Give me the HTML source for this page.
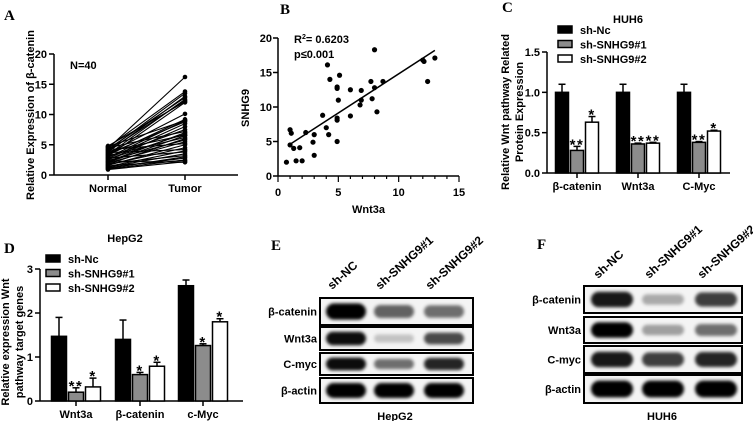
<!DOCTYPE html>
<html><head><meta charset="utf-8"><style>
html,body{margin:0;padding:0;background:#fff;}
svg{display:block;font-family:"Liberation Sans",Arial,sans-serif;font-weight:bold;}
.lt{font-family:"Liberation Serif",serif;font-weight:bold;font-size:15px;}
</style></head><body>
<svg id="fig" width="753" height="421" viewBox="0 0 753 421" xmlns="http://www.w3.org/2000/svg">
<defs>
<filter id="blur" x="-30%" y="-80%" width="160%" height="260%"><feGaussianBlur stdDeviation="1.6"/></filter>
</defs>
<g id="pA"></g>
<g id="pB"></g>
<g id="pC"></g>
<g id="pD"></g>
<g id="pE"></g>
<g id="pF"></g>
</svg>
<script>
// ---- Panel A data ----
const aNormal = [0.9,1.0,1.1,1.2,1.3,1.4,1.5,1.6,1.7,1.8,1.9,2.0,2.1,2.2,2.3,2.4,2.5,2.6,2.7,2.8,2.9,3.0,3.1,3.2,3.3,3.4,3.5,3.6,3.7,3.8,3.9,4.0,4.1,4.2,4.3,4.4,4.5,4.6,4.7,4.8];
const aTumor  = [2.2,2.5,3.0,2.8,3.5,4.0,2.4,5.0,4.5,6.0,3.2,5.5,6.5,7.0,2.1,5.8,8.0,6.8,8.5,3.8,9.0,7.5,12.0,6.2,9.2,12.5,8.8,10.1,4.2,13.0,6.6,12.3,13.5,5.2,12.8,16.2,7.2,13.8,9.0,12.1];
const aTicks = [0,5,10,15,20];
// ---- Panel B data ----
const bX = [0.7,1,1.1,1,1.3,1.5,1.8,2,2.3,2.9,3,3,3.7,4,4.1,4.2,4.3,4.9,4.9,4.9,4.9,4.9,5,5.1,6,6,6.8,6.9,6.9,7.7,7.8,8,8,8.2,8.7,12,12.1,12.4,13];
const bY = [2,6.7,6.2,4.5,4,2.2,4.1,2.2,6.3,4.9,6,3,8.8,7,16.1,6,14,12.7,12.9,8.4,8.1,5,11,14.6,12.5,8.7,10.3,11,12.4,13.7,11.2,18.3,12.8,9.3,13.7,16.8,16.6,13.7,17.1];
const bFit = [1,4.6,13,18.2];
const bXTicks = [0,5,10,15];
const bYTicks = [0,5,10,15,20];
// ---- Panel C data ----
const cCats = ["β-catenin","Wnt3a","C-Myc"];
const cNc = [1.0,1.0,1.0];
const cNcErr = [0.1,0.1,0.1];
const cS1 = [0.28,0.36,0.38];
const cS1Err = [0.05,0.01,0.01];
const cS2 = [0.63,0.37,0.52];
const cS2Err = [0.07,0.01,0.01];
const cS1Sig = ["**","**","**"];
const cS2Sig = ["*","**","*"];
const cTicks = [0,0.5,1.0,1.5];
const cTickLabels = ["0.0","0.5","1.0","1.5"];
// ---- Panel D data ----
const dCats = ["Wnt3a","β-catenin","c-Myc"];
const dNc = [1.47,1.4,2.62];
const dNcErr = [0.43,0.44,0.13];
const dS1 = [0.2,0.6,1.26];
const dS1Err = [0.1,0.05,0.04];
const dS2 = [0.32,0.79,1.8];
const dS2Err = [0.2,0.09,0.07];
const dS1Sig = ["**","*","*"];
const dS2Sig = ["*","*","*"];
const dTicks = [0,1,2,3];
const legendLabels = ["sh-Nc","sh-SNHG9#1","sh-SNHG9#2"];
const seriesFill = ["#000","#8c8c8c","#fff"];
// ---- Blots (band intensity 0..1 per row, per lane) ----
const blotRows = ["β-catenin","Wnt3a","C-myc","β-actin"];
const blotLanes = ["sh-NC","sh-SNHG9#1","sh-SNHG9#2"];
const eBands = [[1.0,0.6,0.55],[0.95,0.2,0.7],[0.95,0.55,0.85],[1.0,1.0,1.0]];
const fBands = [[0.9,0.3,0.75],[1.0,0.35,0.55],[0.9,0.75,0.85],[1.0,1.0,1.0]];

const NS="http://www.w3.org/2000/svg";
function mk(parent,tag,attrs,text){const e=document.createElementNS(NS,tag);for(const k in attrs)e.setAttribute(k,attrs[k]);if(text!==undefined)e.textContent=text;parent.appendChild(e);return e;}
function lin(d0,d1,r0,r1){return v=>r0+(v-d0)*(r1-r0)/(d1-d0);}

// ===== Panel A =====
(function(){
const g=document.getElementById('pA');
const y=lin(0,20,175,54);
const xN=108,xT=185;
let e=mk(g,'text',{x:4,y:20,class:'lt'},'A');


e=mk(g,'line',{x1:54,y1:54,x2:54,y2:175,stroke:'#000','stroke-width':1.5});


e=mk(g,'line',{x1:54,y1:175,x2:238,y2:175,stroke:'#000','stroke-width':1.5});


aTicks.forEach(t=>{
 e=mk(g,'line',{x1:49,y1:y(t),x2:54,y2:y(t),stroke:'#000','stroke-width':1.5});
 
 
 e=mk(g,'text',{x:47,y:y(t)+4,'text-anchor':'end','font-size':11},String(t));
 
 
});
[[xN,'Normal'],[xT,'Tumor']].forEach(p=>{
 e=mk(g,'line',{x1:p[0],y1:175,x2:p[0],y2:180,stroke:'#000','stroke-width':1.5});
 
 
 e=mk(g,'text',{x:p[0],y:192,'text-anchor':'middle','font-size':11},p[1]);
 
 
});
e=mk(g,'text',{x:0,y:0,'text-anchor':'middle','font-size':11,transform:'translate(34,115) rotate(-90)'},'Relative Expression of β-catenin');


e=mk(g,'text',{x:70,y:69,'font-size':11},'N=40');


aNormal.forEach((v,i)=>{
 e=mk(g,'line',{x1:xN,y1:y(v),x2:xT,y2:y(aTumor[i]),stroke:'#000','stroke-width':1.1});
 
 
 e=mk(g,'circle',{cx:xN,cy:y(v),r:2.3,fill:'#000'});
 
 
 e=mk(g,'circle',{cx:xT,cy:y(aTumor[i]),r:2.3,fill:'#000'});
 
 
});
})();

// ===== Panel B =====
(function(){
const g=document.getElementById('pB');
const x=lin(0,15,278,459), y=lin(0,20,176,38);
let e=mk(g,'text',{x:280,y:14,class:'lt'},'B');


e=mk(g,'line',{x1:278,y1:38,x2:278,y2:176,stroke:'#000','stroke-width':1.5});


e=mk(g,'line',{x1:278,y1:176,x2:459,y2:176,stroke:'#000','stroke-width':1.5});


bYTicks.forEach(t=>{
 e=mk(g,'line',{x1:273,y1:y(t),x2:278,y2:y(t),stroke:'#000','stroke-width':1.5});
 
 
 e=mk(g,'text',{x:272,y:y(t)+4,'text-anchor':'end','font-size':11},String(t));
 
 
});
for(let m=0;m<=15;m++){
 const major=bXTicks.indexOf(m)>=0;
 e=mk(g,'line',{x1:x(m),y1:176,x2:x(m),y2:major?182:179,stroke:'#000','stroke-width':1.2});
 
 
}
bXTicks.forEach(t=>{
 e=mk(g,'text',{x:x(t),y:196,'text-anchor':'middle','font-size':11},String(t));
 
 
});
e=mk(g,'text',{x:x(7.5),y:213,'text-anchor':'middle','font-size':11},'Wnt3a');


e=mk(g,'text',{x:0,y:0,'text-anchor':'middle','font-size':11,transform:'translate(249,108) rotate(-90)'},'SNHG9');


e=mk(g,'text',{x:294,y:43,'font-size':11},'R');


mk(e,'tspan',{dy:-4,'font-size':7},'2');
mk(e,'tspan',{dy:4},'= 0.6203');
e=mk(g,'text',{x:294,y:58,'font-size':11},'p≤0.001');


e=mk(g,'line',{x1:x(bFit[0]),y1:y(bFit[1]),x2:x(bFit[2]),y2:y(bFit[3]),stroke:'#000','stroke-width':1.5});


bX.forEach((v,i)=>{
 e=mk(g,'circle',{cx:x(v),cy:y(bY[i]),r:2.6,fill:'#000'});
 
 
});
})();

// ===== grouped bar chart helper =====
function barPanel(gid,pre,o){
 const g=document.getElementById(gid);
 const y=lin(0,o.ymax,o.y0,o.yTop);
 let e=mk(g,'line',{x1:o.x0,y1:o.yTop,x2:o.x0,y2:o.y0,stroke:'#000','stroke-width':1.5});
 
 
 e=mk(g,'line',{x1:o.x0,y1:o.y0,x2:o.xEnd,y2:o.y0,stroke:'#000','stroke-width':1.5});
 
 
 o.ticks.forEach((t,i)=>{
  e=mk(g,'line',{x1:o.x0-5,y1:y(t),x2:o.x0,y2:y(t),stroke:'#000','stroke-width':1.5});
  
  
  e=mk(g,'text',{x:o.x0-7,y:y(t)+4,'text-anchor':'end','font-size':11},o.tickLabels[i]);
  
  
 });
 const series=[[o.nc,o.ncErr,null],[o.s1,o.s1Err,o.s1Sig],[o.s2,o.s2Err,o.s2Sig]];
 o.cats.forEach((c,ci)=>{
  const cx=o.centers[ci];
  e=mk(g,'line',{x1:cx,y1:o.y0,x2:cx,y2:o.y0+5,stroke:'#000','stroke-width':1.5});
  
  
  e=mk(g,'text',{x:cx,y:o.y0+17,'text-anchor':'middle','font-size':11},c);
  
  
  series.forEach((s,si)=>{
   const bx=cx+(si-1)*(o.bw+o.gap)-o.bw/2;
   const v=s[0][ci], er=s[1][ci];
   e=mk(g,'line',{x1:bx+o.bw/2,y1:y(v),x2:bx+o.bw/2,y2:y(v+er),stroke:'#000','stroke-width':1.5});
   
   
   e=mk(g,'line',{x1:bx+o.bw/2-3.5,y1:y(v+er),x2:bx+o.bw/2+3.5,y2:y(v+er),stroke:'#000','stroke-width':1.5});
   
   
   e=mk(g,'rect',{x:bx,y:y(v),width:o.bw,height:o.y0-y(v),fill:seriesFill[si],stroke:'#000','stroke-width':1.5});
   
   
   if(s[2]){
    e=mk(g,'text',{x:bx+o.bw/2,y:y(v+er)+3,'text-anchor':'middle','font-size':15,'letter-spacing':'1.5'},s[2][ci]);
    
    
   }
  });
 });
 e=mk(g,'text',{x:o.titleX,y:o.titleY,'text-anchor':'middle','font-size':11},o.title);
 
 
 legendLabels.forEach((l,i)=>{
  const ly=o.legY+i*14.5;
  e=mk(g,'rect',{x:o.legX,y:ly-4,width:14,height:7,fill:seriesFill[i],stroke:'#000','stroke-width':1.5});
  
  
  e=mk(g,'text',{x:o.legX+22,y:ly+4,'font-size':11},l);
  
  
 });
 o.yTitle.forEach((t,i)=>{
  e=mk(g,'text',{x:0,y:0,'text-anchor':'middle','font-size':11,transform:'translate('+(o.yTitleX+i*14)+','+o.yTitleY+') rotate(-90)'},t);
  
  
 });
}
barPanel('pC','c',{x0:547,xEnd:730,y0:173,yTop:52,ymax:1.5,ticks:cTicks,tickLabels:cTickLabels,cats:cCats,centers:[577,638,699],bw:13,gap:2,
 nc:cNc,ncErr:cNcErr,s1:cS1,s1Err:cS1Err,s2:cS2,s2Err:cS2Err,s1Sig:cS1Sig,s2Sig:cS2Sig,title:'HUH6',titleX:628,titleY:23,legX:558,legY:30,
 yTitle:['Relative Wnt pathway Related','Protein Expression'],yTitleX:509,yTitleY:112});
barPanel('pD','d',{x0:40,xEnd:243,y0:401,yTop:269,ymax:3,ticks:dTicks,tickLabels:dTicks.map(String),cats:dCats,centers:[76,140,203],bw:15,gap:2,
 nc:dNc,ncErr:dNcErr,s1:dS1,s1Err:dS1Err,s2:dS2,s2Err:dS2Err,s1Sig:dS1Sig,s2Sig:dS2Sig,title:'HepG2',titleX:125,titleY:242,legX:46,legY:259,
 yTitle:['Relative expression Wnt','pathway target genes'],yTitleX:9,yTitleY:342});
(function(){let e=mk(document.getElementById('pC'),'text',{x:502,y:12,class:'lt'},'C');


e=mk(document.getElementById('pD'),'text',{x:4,y:253,class:'lt'},'D');

})();

// ===== Western blots =====
function blot(gid,pre,o){
 const g=document.getElementById(gid);
 let e=mk(g,'text',{x:o.lx,y:o.ly,class:'lt'},o.letter);
 
 
 blotLanes.forEach((l,i)=>{
  e=mk(g,'text',{x:0,y:0,'font-size':12,transform:'translate('+(o.lanes[i]-14)+','+o.headY+') rotate(-42)'},l);
  
  
 });
 blotRows.forEach((r,ri)=>{
  const [t,b]=o.rows[ri];
  e=mk(g,'rect',{x:o.bx0,y:t,width:o.bx1-o.bx0,height:b-t,fill:'#f4f4f4',stroke:'#000','stroke-width':2});
  
  
  e=mk(g,'text',{x:o.labelX,y:(t+b)/2+4,'text-anchor':'end','font-size':11},r);
  
  
  o.bands[ri].forEach((v,li)=>{
   const h=(b-t)*(0.3+0.3*v);
   e=mk(g,'rect',{x:o.lanes[li]-o.bw/2,y:(t+b)/2-h/2,width:o.bw,height:h,rx:h/2,fill:'#000','fill-opacity':v,filter:'url(#blur)'});
   
   
  });
 });
 e=mk(g,'text',{x:o.capX,y:o.capY,'text-anchor':'middle','font-size':11},o.cap);
 
 
}
blot('pE','e',{letter:'E',lx:271,ly:250,lanes:[346,394,444],headY:290,rows:[[298,325],[327,350],[353,375],[378,403]],bx0:320,bx1:473,labelX:317,bw:40,bands:eBands,cap:'HepG2',capX:395,capY:420});
blot('pF','f',{letter:'F',lx:537,ly:249,lanes:[612,663,716],headY:279,rows:[[286,313],[317,343],[346,373],[375,403]],bx0:584,bx1:742,labelX:581,bw:42,bands:fBands,cap:'HUH6',capX:662,capY:420});
</script>
</body></html>
